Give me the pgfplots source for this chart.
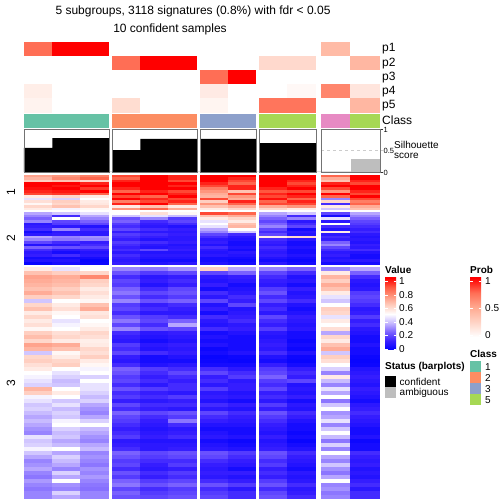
\documentclass[border=0pt]{standalone}
\usepackage{fontspec}
\setmainfont{Liberation Sans}
\usepackage{pgfplots}
\usepackage{pgfplotstable}
\pgfplotsset{compat=1.18}

\definecolor{cls1}{HTML}{66C2A5}
\definecolor{cls2}{HTML}{FC8D62}
\definecolor{cls3}{HTML}{8DA0CB}
\definecolor{cls4}{HTML}{E78AC3}
\definecolor{cls5}{HTML}{A6D854}
\definecolor{ambig}{HTML}{BEBEBE}

\pgfplotsset{
 colormap={valmap}{rgb255=(0,0,255) rgb255=(55,30,255) rgb255=(122,97,255) rgb255=(198,184,255) rgb255=(255,255,255) rgb255=(255,205,190) rgb255=(255,150,125) rgb255=(255,90,65) rgb255=(255,0,0)},
 colormap={probmap}{rgb255=(255,255,255) rgb255=(255,212,198) rgb255=(255,170,145) rgb255=(255,110,85) rgb255=(255,0,0)},
}

\pgfdeclareverticalshading{valshade}{100bp}{rgb(0bp)=(0,0,1); rgb(25bp)=(0,0,1); rgb(31.25bp)=(0.216,0.118,1); rgb(37.5bp)=(0.478,0.38,1); rgb(43.75bp)=(0.776,0.722,1); rgb(50bp)=(1,1,1); rgb(56.25bp)=(1,0.804,0.745); rgb(62.5bp)=(1,0.588,0.49); rgb(68.75bp)=(1,0.353,0.255); rgb(75bp)=(1,0,0); rgb(100bp)=(1,0,0)}
\pgfdeclareverticalshading{probshade}{100bp}{rgb(0bp)=(1,1,1); rgb(25bp)=(1,1,1); rgb(37.5bp)=(1,0.831,0.776); rgb(50bp)=(1,0.667,0.569); rgb(62.5bp)=(1,0.431,0.333); rgb(75bp)=(1,0,0); rgb(100bp)=(1,0,0)}

\newcommand\defcell[3]{\pgfdeclareplotmark{#1}{\pgfpathrectangle{\pgfpoint{-0.5*#2pt}{-0.5*#3pt}}{\pgfpoint{#2pt}{#3pt}}\pgfusepathqfill}}
\defcell{a1}{28.7}{2.75}
\defcell{a5}{29.8}{2.75}
\defcell{b1}{28.7}{2.85}
\defcell{b5}{29.8}{2.85}
\defcell{c1}{28.7}{4.2}
\defcell{c5}{29.8}{4.2}
\defcell{p1}{28.7}{14.3}
\defcell{p5}{29.8}{14.3}
\defcell{k1}{28.7}{13.5}
\defcell{k5}{29.8}{13.5}

\pgfplotstableread{
c1 c2 c3 c4 c5 c6 c7 c8 c9 c10 c11 c12
.75 1 1 0 0 0 0 0 0 0 .40 0
0 0 0 .75 1 1 0 0 .22 .22 0 .42
0 0 0 0 0 0 .75 1 0 0 0 0
.10 0 0 0 0 0 .12 0 0 .04 .65 .15
.07 0 0 .20 0 0 .06 0 .72 .72 0 .42
}\tabP

\pgfplotstableread{
c1 c2 c3 c4 c5 c6 c7 c8 c9 c10 c11 c12
.72 .75 .80 .90 1 .95 1 1 1 1 .85 1
.68 .78 .85 .85 1 .95 1 .95 1 1 .70 1
.62 .65 .60 .95 1 .90 1 .90 1 .95 .65 .95
1 1 .95 1 1 1 .95 .85 1 .90 .95 .90
1 .97 1 1 1 .95 .90 .95 1 .95 1 1
.98 1 .92 .95 1 1 .80 .95 .95 1 .90 1
.95 .97 1 .85 .95 .90 .75 .65 .88 .90 .75 .95
.90 .92 .85 1 1 .95 .70 .90 .95 1 1 .90
.55 .60 .55 .90 .85 1 .68 .75 .90 .95 .85 1
.45 .42 .50 1 .95 .90 .90 .70 .98 .85 .30 .90
.58 .62 .55 .80 .90 .95 .62 .95 .85 .95 .60 .80
.52 .60 .56 .95 1 .85 .75 .85 .90 .90 .15 .85
.60 .65 .60 .55 .65 .55 .65 .70 .70 .75 .55 .70
.55 .48 .52 .75 .85 .70 .55 .60 .60 .55 .40 .65
}\tabA

\pgfplotstableread{
c1 c2 c3 c4 c5 c6 c7 c8 c9 c10 c11 c12
.35 .40 .45 .50 .58 .52 .90 .85 .35 .40 .20 .35
.30 .15 .35 .40 .45 .38 .65 .70 .30 .15 .05 .30
.25 .50 .30 .22 .30 .18 .55 .60 .25 .30 .45 .25
.30 .20 .25 .25 .15 .20 .45 .55 .20 .10 .10 .20
.10 .18 .20 .18 .12 .15 .50 .65 .25 .15 .50 .18
.12 .10 .08 .15 .10 .08 .45 .68 .30 .20 .15 .15
.15 .30 .15 .20 .15 .12 .35 .50 .20 .05 .08 .12
.05 .10 .10 .12 .10 .10 .30 .40 .15 .10 .55 .15
.10 .12 .10 .18 .15 .12 .20 .15 .20 .08 .10 .10
.35 .30 .32 .15 .12 .10 .15 .10 .55 .60 .15 .08
.30 .28 .30 .12 .08 .10 .10 .08 .15 .10 .12 .10
.20 .15 .12 .18 .15 .12 .12 .05 .12 .05 .25 .08
.08 .10 .15 .15 .10 .08 .08 .05 .10 .05 .30 .12
.25 .22 .20 .12 .08 .10 .15 .08 .15 .08 .20 .10
.15 .10 .12 .15 .20 .12 .10 .05 .12 .05 .15 .15
.10 .05 .08 .10 .08 .08 .08 .10 .10 .05 .10 .08
.12 .15 .10 .15 .10 .10 .10 .08 .12 .08 .12 .05
.05 .05 .05 .12 .08 .08 .05 .05 .08 .05 .08 .05
.08 .08 .02 .10 .05 .05 .05 .03 .05 .03 .10 .10
.02 .05 .03 .12 .08 .10 .08 .05 .10 .05 .05 .05
}\tabB

\pgfplotstableread{
c1 c2 c3 c4 c5 c6 c7 c8 c9 c10 c11 c12
.55 .45 .50 .30 .28 .32 .62 .35 .30 .25 .30 .35
.65 .62 .60 .22 .18 .20 .20 .25 .20 .15 .55 .25
.72 .70 .78 .15 .10 .12 .10 .12 .15 .08 .68 .15
.70 .68 .62 .20 .12 .15 .08 .10 .12 .10 .62 .10
.68 .66 .60 .18 .08 .12 .12 .05 .10 .05 .70 .08
.65 .62 .55 .25 .15 .20 .05 .08 .18 .12 .65 .10
.70 .65 .58 .28 .20 .22 .15 .10 .22 .08 .55 .18
.62 .60 .55 .22 .15 .18 .10 .15 .15 .10 .45 .20
.40 .50 .52 .30 .22 .25 .20 .12 .20 .15 .40 .18
.60 .55 .65 .18 .12 .15 .08 .20 .12 .08 .50 .15
.65 .58 .70 .20 .15 .12 .12 .08 .15 .05 .62 .10
.55 .52 .56 .15 .10 .10 .05 .10 .10 .08 .60 .12
.60 .50 .58 .22 .18 .15 .15 .12 .20 .12 .45 .18
.55 .45 .50 .28 .20 .25 .10 .15 .15 .10 .55 .12
.58 .48 .52 .20 .15 .35 .08 .10 .12 .08 .50 .15
.52 .50 .55 .30 .22 .20 .15 .12 .18 .10 .58 .10
.62 .58 .60 .15 .10 .12 .05 .08 .10 .05 .35 .08
.66 .60 .58 .12 .08 .10 .08 .05 .08 .05 .60 .05
.60 .55 .54 .10 .05 .08 .05 .05 .10 .03 .55 .05
.72 .70 .55 .18 .10 .12 .08 .05 .12 .05 .65 .08
.68 .65 .60 .15 .08 .10 .03 .05 .10 .03 .70 .05
.40 .52 .58 .20 .15 .12 .05 .08 .15 .08 .40 .05
.60 .55 .62 .12 .05 .08 .02 .03 .08 .03 .62 .03
.62 .60 .55 .10 .05 .05 .03 .02 .05 .02 .58 .02
.58 .62 .52 .15 .08 .10 .05 .05 .12 .05 .50 .03
.55 .50 .48 .25 .18 .15 .15 .10 .18 .12 .42 .08
.50 .45 .50 .22 .15 .20 .20 .15 .20 .15 .30 .10
.48 .42 .42 .18 .12 .15 .12 .18 .25 .12 .55 .12
.45 .38 .50 .20 .15 .12 .15 .10 .18 .20 .38 .10
.42 .40 .45 .15 .10 .15 .10 .12 .15 .08 .30 .08
.68 .50 .45 .22 .18 .15 .18 .12 .20 .10 .45 .12
.62 .55 .42 .15 .12 .10 .10 .08 .12 .08 .35 .10
.48 .50 .38 .18 .15 .18 .12 .10 .15 .12 .50 .08
.45 .40 .42 .12 .10 .12 .08 .05 .10 .05 .28 .05
.40 .45 .35 .20 .15 .15 .15 .12 .18 .10 .40 .10
.42 .38 .32 .15 .12 .10 .10 .08 .12 .08 .50 .12
.38 .42 .30 .25 .20 .22 .20 .15 .22 .15 .32 .15
.35 .40 .35 .20 .15 .18 .15 .12 .18 .12 .35 .12
.38 .48 .42 .18 .12 .28 .12 .10 .15 .08 .45 .10
.35 .50 .50 .15 .10 .15 .08 .08 .12 .05 .30 .08
.32 .42 .38 .12 .08 .10 .05 .05 .10 .05 .40 .05
.30 .38 .35 .15 .10 .12 .08 .05 .08 .03 .50 .05
.45 .40 .32 .18 .12 .15 .10 .08 .12 .05 .38 .08
.40 .35 .30 .10 .08 .08 .05 .03 .08 .02 .28 .03
.42 .38 .35 .12 .10 .10 .08 .05 .10 .05 .42 .05
.48 .50 .38 .15 .10 .12 .10 .08 .12 .08 .30 .05
.40 .35 .30 .25 .20 .22 .22 .18 .22 .15 .50 .15
.35 .42 .32 .22 .18 .20 .20 .15 .20 .12 .35 .12
.30 .38 .30 .18 .15 .15 .15 .12 .15 .10 .30 .10
.32 .35 .28 .20 .12 .18 .12 .10 .18 .08 .40 .12
.35 .30 .32 .15 .10 .12 .10 .05 .12 .05 .32 .08
.30 .42 .30 .22 .15 .18 .12 .12 .15 .10 .28 .10
.28 .35 .33 .18 .12 .15 .10 .08 .12 .08 .35 .08
.33 .50 .30 .25 .18 .20 .15 .12 .18 .10 .50 .12
.30 .32 .28 .28 .22 .25 .22 .18 .22 .15 .30 .15
.28 .30 .27 .20 .15 .18 .15 .10 .15 .10 .32 .10
.30 .42 .30 .25 .18 .20 .18 .15 .20 .12 .28 .15
.30 .35 .30 .22 .20 .22 .20 .15 .22 .15 .30 .15
}\tabC

% heatmap column: table, column, x centre, top, row height, mark
\newcommand\hc[6]{\addplot[scatter,only marks,scatter src=explicit,mark=#6] table[x expr=#3,y expr={#4+(\coordindex+0.5)*#5},meta=#2]{#1};}
\newcommand\pc[6]{\addplot[scatter,only marks,scatter src=explicit,mark=#6,colormap name=probmap] table[x expr=#3,y expr={#4+(\coordindex+0.5)*#5},meta=#2]{#1};}
\newcommand\allcols[5]{%
 #1{#2}{c1}{38.17}{#3}{#4}{#51}%
 #1{#2}{c2}{66.5}{#3}{#4}{#51}%
 #1{#2}{c3}{94.83}{#3}{#4}{#51}%
 #1{#2}{c4}{126.17}{#3}{#4}{#51}%
 #1{#2}{c5}{154.5}{#3}{#4}{#51}%
 #1{#2}{c6}{182.83}{#3}{#4}{#51}%
 #1{#2}{c7}{214}{#3}{#4}{#51}%
 #1{#2}{c8}{242}{#3}{#4}{#51}%
 #1{#2}{c9}{273.25}{#3}{#4}{#51}%
 #1{#2}{c10}{301.75}{#3}{#4}{#51}%
 #1{#2}{c11}{335.75}{#3}{#4}{#55}%
 #1{#2}{c12}{365.25}{#3}{#4}{#55}%
}

\begin{document}
\begin{tikzpicture}
\begin{axis}[at={(0pt,0pt)}, anchor=south west, scale only axis, width=504pt, height=504pt,
 xmin=0, xmax=504, ymin=0, ymax=504, y dir=reverse, hide axis, clip=false,
 point meta min=0, point meta max=1, colormap name=valmap]
\path (axis cs:0,0) rectangle (axis cs:504,504);
% probability annotation rows
\allcols{\pc}{\tabP}{42}{14.1}{p}
% class row
\addplot[only marks, mark=k1, color=cls1] coordinates {(38.17,120.75)(66.5,120.75)(94.83,120.75)};
\addplot[only marks, mark=k1, color=cls2] coordinates {(126.17,120.75)(154.5,120.75)(182.83,120.75)};
\addplot[only marks, mark=k1, color=cls3] coordinates {(214,120.75)(242,120.75)};
\addplot[only marks, mark=k1, color=cls5] coordinates {(273.25,120.75)(301.75,120.75)};
\addplot[only marks, mark=k5, color=cls4] coordinates {(335.75,120.75)};
\addplot[only marks, mark=k5, color=cls5] coordinates {(365.25,120.75)};
% heatmap
\allcols{\hc}{\tabA}{175}{2.52}{a}
\allcols{\hc}{\tabB}{212.3}{2.62}{b}
\allcols{\hc}{\tabC}{267}{3.995}{c}
\end{axis}
% silhouette barplot panel
\begin{axis}[at={(24pt,332pt)}, anchor=south west, scale only axis, width=356pt, height=43pt,
 xmin=24, xmax=380, ymin=0, ymax=1, axis x line=none, axis y line*=right,
 y axis line style={draw=none}, ytick={0,0.5,1}, yticklabels={0,0.5,1},
 tick align=outside, major tick length=3pt, tick style={black!80, line width=0.5pt},
 yticklabel style={font=\fontsize{7.5}{8}\selectfont, inner sep=0.5pt, yshift=-0.8pt},
 /pgf/number format/assume math mode=true, clip=false]
\addplot[ybar interval, fill=black, draw=none] coordinates {(24,0.56)(52.33,0.79)(80.67,0.79)(109,0)(112,0.51)(140.33,0.77)(168.67,0.77)(197,0)(200,0.77)(228,0.77)(256,0)(259,0.67)(287.5,0.67)(316,0)(321,0)(350.5,0)(380,0)};
\addplot[ybar interval, fill=ambig, draw=none] coordinates {(350.5,0.30)(380,0.30)};
\addplot[gray!40, dashed, line width=0.5pt] coordinates {(321,0.5)(383,0.5)};
\addplot[black!55, line width=0.9pt] coordinates {(24,0)(109,0)(109,1)(24,1)(24,0)};
\addplot[black!55, line width=0.9pt] coordinates {(112,0)(197,0)(197,1)(112,1)(112,0)};
\addplot[black!55, line width=0.9pt] coordinates {(200,0)(256,0)(256,1)(200,1)(200,0)};
\addplot[black!55, line width=0.9pt] coordinates {(259,0)(316,0)(316,1)(259,1)(259,0)};
\addplot[black!55, line width=0.9pt] coordinates {(321,0)(380,0)(380,1)(321,1)(321,0)};
\end{axis}
% texts and legends, in pixel coordinates (y downward)
\begin{scope}[shift={(0pt,504pt)}, x=1pt, y=-1pt]
\node[font=\fontsize{12}{14}\selectfont] at (193,11) {5 subgroups, 3118 signatures (0.8\%) with fdr < 0.05};
\node[font=\fontsize{12}{14}\selectfont] at (170,29) {10 confident samples};
\begin{scope}[every node/.style={anchor=west, font=\fontsize{12}{14}\selectfont, inner sep=1pt}]
\node at (381,49) {p1};
\node at (381,63.2) {p2};
\node at (381,77.3) {p3};
\node at (381,91.4) {p4};
\node at (381,105.6) {p5};
\node[inner sep=0pt] at (382,119.8) {Class};
\end{scope}
\node[rotate=90, font=\fontsize{12}{14}\selectfont] at (11,192) {1};
\node[rotate=90, font=\fontsize{12}{14}\selectfont] at (11,238.5) {2};
\node[rotate=90, font=\fontsize{12}{14}\selectfont] at (11,383) {3};
\node[anchor=west, font=\fontsize{10}{12}\selectfont, inner sep=0pt] at (394,144.5) {Silhouette};
\node[anchor=west, font=\fontsize{10}{12}\selectfont, inner sep=0pt] at (394,156) {score};
\begin{scope}[every node/.style={anchor=west, font=\fontsize{10}{12}\selectfont, inner sep=0pt}]
\node[font=\bfseries\fontsize{10}{12}\selectfont] at (385,270) {Value};
\shade[shading=valshade] (385,278) rectangle (396,350);
\foreach \yy/\lab in {281.5/1, 295/0.8, 308.5/0.6, 322/0.4, 335.5/0.2, 349/0}{
 \draw[white, line width=0.6pt] (385,\yy) -- (387.5,\yy) (393.5,\yy) -- (396,\yy);
 \node at (399,\yy) {\lab};
}
\node[font=\bfseries\fontsize{10}{12}\selectfont] at (470,270) {Prob};
\shade[shading=probshade] (470,278) rectangle (481,337);
\foreach \yy/\lab in {281.5/1, 308.5/0.5, 335.5/0}{
 \draw[white, line width=0.6pt] (470,\yy) -- (472.5,\yy) (478.5,\yy) -- (481,\yy);
 \node at (485,\yy) {\lab};
}
\node[font=\bfseries\fontsize{10}{12}\selectfont] at (470,354) {Class};
\fill[cls1] (470,361.5) rectangle (481,372.5);
\fill[cls2] (470,372.5) rectangle (481,383.5);
\fill[cls3] (470,383.5) rectangle (481,394.5);
\fill[cls5] (470,394.5) rectangle (481,405.5);
\node at (485,367) {1};
\node at (485,378) {2};
\node at (485,389) {3};
\node at (485,400) {5};
\node[font=\bfseries\fontsize{10}{12}\selectfont] at (385,367) {Status (barplots)};
\fill[black] (385,376) rectangle (396,387);
\fill[ambig] (385,387) rectangle (396,398);
\node at (399.5,381.5) {confident};
\node at (399.5,393) {ambiguous};
\end{scope}
\end{scope}
\end{tikzpicture}
\end{document}
